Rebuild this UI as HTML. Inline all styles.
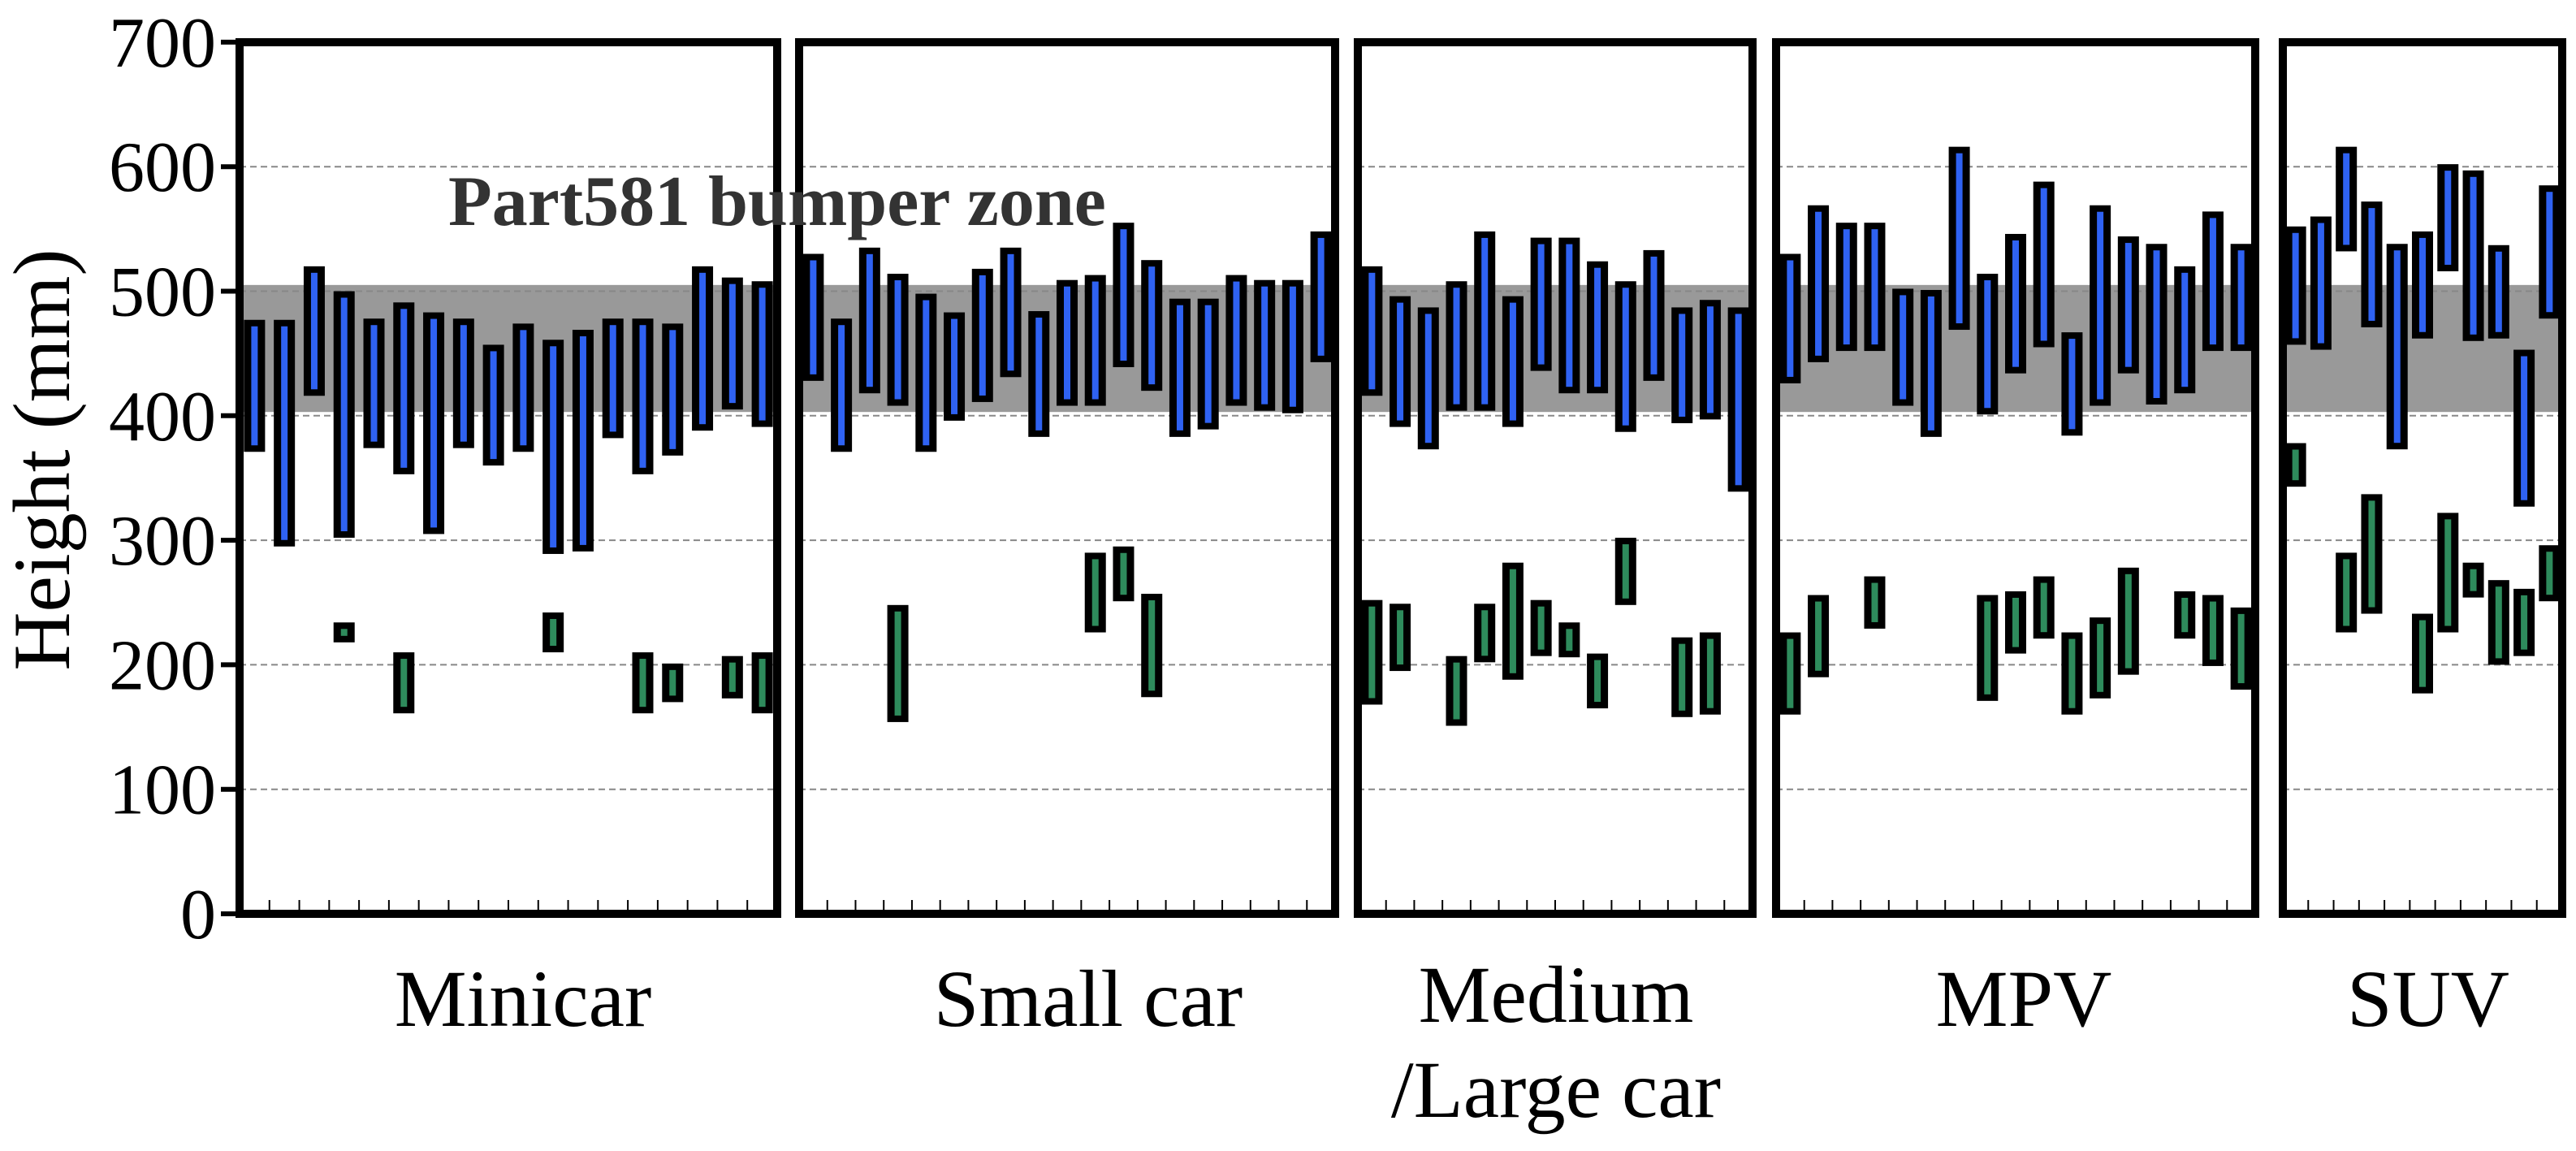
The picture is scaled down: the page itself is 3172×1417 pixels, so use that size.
<!DOCTYPE html>
<html><head><meta charset="utf-8"><style>
html,body{margin:0;padding:0;background:#fff;}
svg{display:block;font-family:"Liberation Serif",serif;}
</style></head><body>
<svg id="chart" width="3172" height="1417" viewBox="0 0 3172 1417" xmlns="http://www.w3.org/2000/svg">
<rect width="3172" height="1417" fill="#fff"/>
<g id="back"></g><g id="grid"></g><g id="bars"></g><g id="frames"></g><g id="labels"></g>
</svg>
<script>
const categories = ["Minicar","Small car","Medium/Large car","MPV","SUV"];
const yTicks = [0,100,200,300,400,500,600,700];
const zoneRange = [403,505];
// bumper (blue) top/bottom per vehicle
const blueTop = [
 [477,477,520,500,478,491,483,478,457,474,461,469,478,478,474,520,511,508],
 [530,478,535,514,498,483,518,535,484,509,513,555,525,494,494,513,509,509,548],
 [520,496,487,508,548,496,543,543,524,508,533,487,493,487],
 [530,569,555,555,502,501,616,514,546,588,467,569,544,538,520,564,538],
 [552,560,616,572,538,548,602,597,537,453,585]
];
const blueBot = [
 [371,295,416,302,374,353,305,374,360,371,289,291,382,353,368,388,405,391],
 [428,371,418,408,371,396,411,431,383,408,408,439,420,383,389,408,404,402,443],
 [416,391,373,404,404,391,436,418,418,387,428,394,397,339],
 [426,443,452,452,408,383,469,401,434,455,384,408,434,409,418,452,452],
 [457,453,532,471,373,462,516,460,462,327,478]
];
// lower (green) top/bottom per vehicle (null = none)
const greenTop = [
 [null,null,null,234,null,210,null,null,null,null,242,null,null,210,201,null,207,210],
 [null,null,null,248,null,null,null,null,null,null,290,295,257,null,null,null,null,null,null],
 [252,249,null,207,249,282,252,234,209,302,null,222,226,null],
 [226,256,null,271,null,null,null,256,259,271,226,238,278,null,259,256,246],
 [378,null,290,337,null,241,322,282,268,261,296]
];
const greenBot = [
 [null,null,null,218,null,161,null,null,null,null,210,null,null,161,170,null,173,161],
 [null,null,null,154,null,null,null,null,null,null,226,251,174,null,null,null,null,null,null],
 [168,195,null,151,202,188,207,206,165,248,null,158,160,null],
 [160,190,null,229,null,null,null,171,209,221,160,173,192,null,221,199,180],
 [343,null,226,241,null,177,226,254,200,207,251]
];
const panels=[[295,957],[984,1644],[1672,2158],[2187,2777],[2811,3155]];
const NS="http://www.w3.org/2000/svg";
function y(v){return 1125-v*1.533;}
function mk(tag,attrs,parent){const e=document.createElementNS(NS,tag);for(const k in attrs)e.setAttribute(k,attrs[k]);document.getElementById(parent).appendChild(e);return e;}
function bar(cx,top,bot,fill,parent,name){
  const g=mk('g',{},parent);
  
  
  const y1=y(top),y2=y(bot);
  const o=document.createElementNS(NS,'rect');
  o.setAttribute('x',cx-13);o.setAttribute('y',y1);o.setAttribute('width',26);o.setAttribute('height',Math.max(y2-y1,4));o.setAttribute('fill','#000');
  g.appendChild(o);
  const ih=y2-y1-16;
  if(ih>0){const i=document.createElementNS(NS,'rect');
  i.setAttribute('x',cx-4);i.setAttribute('y',y1+8);i.setAttribute('width',8);i.setAttribute('height',ih);i.setAttribute('fill',fill);g.appendChild(i);}
}
panels.forEach((p,pi)=>{
  const [l,r]=p;const n=blueTop[pi].length;const w=(r-l)/n;
  const band=mk('rect',{x:l,y:y(zoneRange[1]),width:r-l,height:y(zoneRange[0])-y(zoneRange[1]),fill:'#999'},'back');
  
  
  yTicks.forEach(t=>{if(t>0&&t<700){const gl=mk('line',{x1:l,x2:r,y1:y(t),y2:y(t),stroke:'#888','stroke-width':2,'stroke-dasharray':'8 5'},'grid');
    
    }});
  for(let i=0;i<n;i++){
    const cx=l+(i+0.5)*w;
    bar(cx,blueTop[pi][i],blueBot[pi][i],'#2f62f2','bars','bumper-bar');
    if(greenTop[pi][i]!==null) bar(cx,greenTop[pi][i],greenBot[pi][i],'#2e8b5c','bars','lower-bar');
    if(i>0){const tk=mk('line',{x1:l+i*w,x2:l+i*w,y1:1108,y2:1125,stroke:'#000','stroke-width':2},'frames');
      
      }
  }
  const fr=mk('rect',{x:l,y:52,width:r-l,height:1073,fill:'none',stroke:'#000','stroke-width':10},'frames');
  
  
});
yTicks.forEach(t=>{
  const tk=mk('line',{x1:272,x2:295,y1:y(t),y2:y(t),stroke:'#000','stroke-width':6},'frames');
  
  
  const tx=mk('text',{x:266,y:y(t)+30,'text-anchor':'end','font-size':88,fill:'#000'},'labels');
  
  
  tx.textContent=t;
});
const catX=[644,1340,1916,2492,2990];
categories.forEach((c,i)=>{
  if(c==="Medium/Large car"){
    const a=mk('text',{x:catX[i],y:1258,'text-anchor':'middle','font-size':100},'labels');
    
    
    a.textContent="Medium";
    const b=mk('text',{x:catX[i],y:1375,'text-anchor':'middle','font-size':100},'labels');
    
    
    b.textContent="/Large car";
  } else {
    const a=mk('text',{x:catX[i],y:1263,'text-anchor':'middle','font-size':100},'labels');
    
    
    a.textContent=c;
  }
});
const yl=mk('text',{x:0,y:0,transform:'translate(85,566) rotate(-90)','text-anchor':'middle','font-size':100},'labels');


yl.textContent="Height (mm)";
const zt=mk('text',{x:552,y:277,'font-size':88,'font-weight':'bold',fill:'#333'},'labels');


zt.textContent="Part581 bumper zone";
</script>
</body></html>
